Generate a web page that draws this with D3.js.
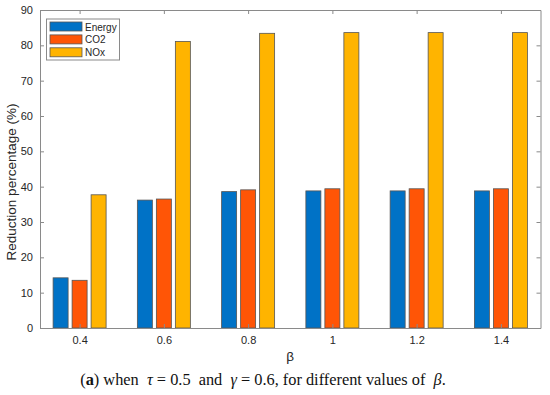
<!DOCTYPE html>
<html>
<head>
<meta charset="utf-8">
<script src="https://cdn.jsdelivr.net/npm/d3@7"></script>
<style>
  body { margin: 0; background: #fff; }
  svg { display: block; }
</style>
</head>
<body>
<svg id="chart"></svg>
<script>
const betas = ["0.4", "0.6", "0.8", "1", "1.2", "1.4"]
const seriesNames = ["Energy", "CO2", "NOx"]
const energy = [14.2, 36.2, 38.6, 38.8, 38.8, 38.8]
const co2 = [13.5, 36.5, 39.1, 39.4, 39.4, 39.4]
const nox = [37.7, 81.1, 83.4, 83.6, 83.6, 83.6]
const yTicks = [0, 10, 20, 30, 40, 50, 60, 70, 80, 90]

const colors = ["#0072c6", "#ff5506", "#ffb400"]
const seriesValues = [energy, co2, nox]

const width = 550
const height = 395
const margin = { left: 40, right: 9.5, top: 10, bottom: 67 }

const svg = d3.select("#chart")
              .attr("width", width)
              .attr("height", height)
              .attr("font-family", "'Liberation Sans', Arial, sans-serif")

const x = d3.scalePoint()
            .domain(betas)
            .range([margin.left, width - margin.right])
            .padding(0.47)

const y = d3.scaleLinear()
            .domain([0, 90])
            .range([height - margin.bottom, margin.top])

const barW = 15
const barGap = 19

const axisColor = "#8a8a8a"
const textColor = "#262626"

// bars
seriesValues.forEach((vals, s) => {
  svg.append("g")
     .selectAll("rect")
     .data(vals)
     .join("rect")
     .attr("x", (d, i) => x(betas[i]) + (s - 1) * barGap - barW / 2)
     .attr("y", d => y(d))
     .attr("width", barW)
     .attr("height", d => y(0) - y(d))
     .attr("fill", colors[s])
     .attr("stroke", "#555")
     .attr("stroke-width", 0.8)
})

// axes
const xAxis = d3.axisBottom(x).tickSizeInner(-4).tickSizeOuter(0).tickPadding(8)
const xTop = d3.axisTop(x).tickSizeInner(-4).tickSizeOuter(0).tickFormat("")
const yAxis = d3.axisLeft(y).tickValues(yTicks).tickSizeInner(-4).tickSizeOuter(0).tickPadding(7)
const yRight = d3.axisRight(y).tickValues(yTicks).tickSizeInner(-4).tickSizeOuter(0).tickFormat("")

function styleAxis(g) {
  g.selectAll("path").attr("stroke", axisColor)
  g.selectAll("line").attr("stroke", axisColor)
  g.selectAll("text").attr("fill", textColor).attr("font-size", 11)
}

svg.append("g").attr("transform", `translate(0,${y(0)})`).call(xAxis).call(styleAxis)
svg.append("g").attr("transform", `translate(0,${margin.top})`).call(xTop).call(styleAxis)
svg.append("g").attr("transform", `translate(${margin.left},0)`).call(yAxis).call(styleAxis)
svg.append("g").attr("transform", `translate(${width - margin.right},0)`).call(yRight).call(styleAxis)

svg.selectAll(".domain").attr("stroke-width", 1)

// axis labels
svg.append("text")
   .attr("x", (margin.left + width - margin.right) / 2)
   .attr("y", 361)
   .attr("text-anchor", "middle")
   .attr("font-size", 13.5)
   .attr("fill", textColor)
   .text("β")

svg.append("text")
   .attr("transform", "translate(16,182) rotate(-90)")
   .attr("text-anchor", "middle")
   .attr("font-size", 13.5)
   .attr("fill", textColor)
   .text("Reduction percentage (%)")

// legend
const legend = svg.append("g").attr("transform", "translate(46.5,19)")
legend.append("rect")
      .attr("width", 73)
      .attr("height", 41)
      .attr("fill", "#fff")
      .attr("stroke", axisColor)

seriesNames.forEach((name, i) => {
  legend.append("rect")
        .attr("x", 3.5)
        .attr("y", 3 + i * 12.9)
        .attr("width", 32)
        .attr("height", 9)
        .attr("fill", colors[i])
        .attr("stroke", "#555")
        .attr("stroke-width", 0.8)
  legend.append("text")
        .attr("x", 38.5)
        .attr("y", 11.5 + i * 12.9)
        .attr("font-size", 10)
        .attr("fill", textColor)
        .text(name)
})

// caption
const cap = svg.append("text")
               .attr("x", 263)
               .attr("y", 385)
               .attr("text-anchor", "middle")
               .attr("font-family", "'Liberation Serif', 'DejaVu Serif', serif")
               .attr("font-size", 14)
               .attr("fill", "#111")
               .style("white-space", "pre")
cap.append("tspan").text("(")
cap.append("tspan").attr("font-weight", "bold").text("a")
cap.append("tspan").text(") when  ")
cap.append("tspan").attr("font-style", "italic").text("τ")
cap.append("tspan").text(" = 0.5  and  ")
cap.append("tspan").attr("font-style", "italic").text("γ")
cap.append("tspan").text(" = 0.6, for different values of  ")
cap.append("tspan").attr("font-style", "italic").text("β")
cap.append("tspan").text(".")

// fit caption to the reference width (about 366 px)
const capLen = cap.node().getComputedTextLength()
cap.attr("font-size", 14 * 366 / capLen)
</script>
</body>
</html>
